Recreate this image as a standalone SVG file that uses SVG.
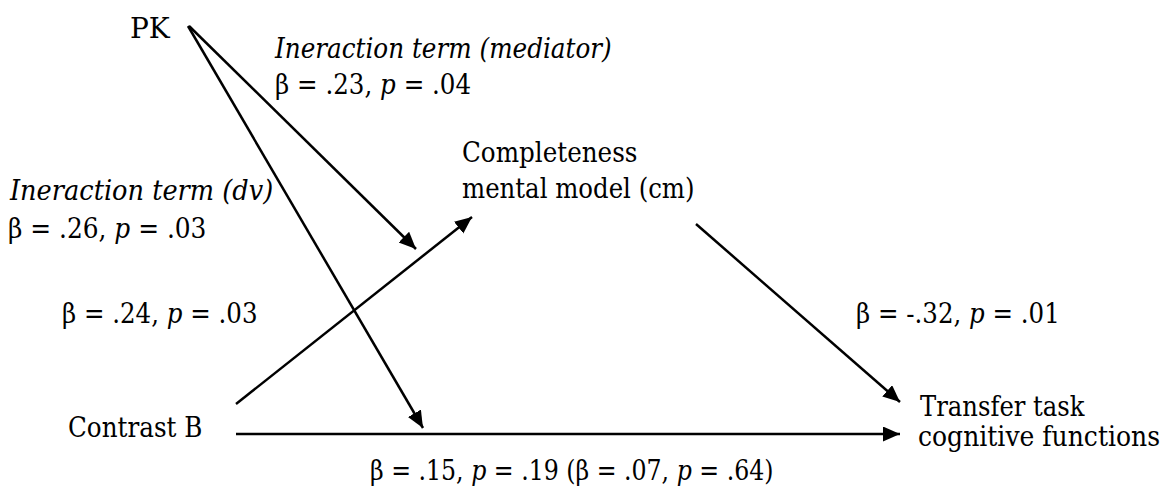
<svg xmlns="http://www.w3.org/2000/svg" width="1163" height="489" viewBox="0 0 1163 489">
<style>
text{font-family:"DejaVu Serif","Liberation Serif",serif;font-size:28px;fill:#000}
.i{font-style:italic}
.c{stroke:#000;stroke-width:2.5;fill:none;marker-end:url(#ah)}
</style>
<defs>
<marker id="ah" markerUnits="userSpaceOnUse" markerWidth="18" markerHeight="16" refX="17" refY="7.5" orient="auto">
<path d="M0,0 L17,7.5 L0,15 z" fill="#000"/>
</marker>
</defs>
<rect width="1163" height="489" fill="#fff"/>
<g id="connectors">
<line class="c" x1="189" y1="26" x2="416" y2="249"/>
<line class="c" x1="188" y1="26" x2="423" y2="428"/>
<line class="c" x1="236" y1="404" x2="472" y2="217"/>
<line class="c" x1="696" y1="224" x2="900" y2="402"/>
<line class="c" x1="236" y1="434" x2="900" y2="434"/>
</g>
<g id="node-pk"><text transform="translate(130,38)">PK</text></g>
<g id="node-cm"><text transform="translate(462,162) scale(0.88,1)">Completeness</text><text transform="translate(462,198) scale(0.872,1)">mental model (cm)</text></g>
<g id="node-contrast"><text transform="translate(68,437) scale(0.88,1)">Contrast B</text></g>
<g id="node-transfer"><text transform="translate(920,416) scale(0.868,1)">Transfer task</text><text transform="translate(918,446) scale(0.895,1)">cognitive functions</text></g>
<g id="labels">
<text transform="translate(275,58) scale(0.882,1)" class="i">Ineraction term (mediator)</text>
<text transform="translate(275,94) scale(0.878,1)">β = .23, <tspan class="i">p</tspan> = .04</text>
<text transform="translate(10,200) scale(0.915,1)" class="i">Ineraction term (dv)</text>
<text transform="translate(8,238) scale(0.888,1)">β = .26, <tspan class="i">p</tspan> = .03</text>
<text transform="translate(62,323) scale(0.875,1)">β = .24, <tspan class="i">p</tspan> = .03</text>
<text transform="translate(856,323) scale(0.875,1)">β = -.32, <tspan class="i">p</tspan> = .01</text>
<text transform="translate(370,480) scale(0.845,1)">β = .15, <tspan class="i">p</tspan> = .19 (β = .07, <tspan class="i">p</tspan> = .64)</text>
</g>
</svg>
